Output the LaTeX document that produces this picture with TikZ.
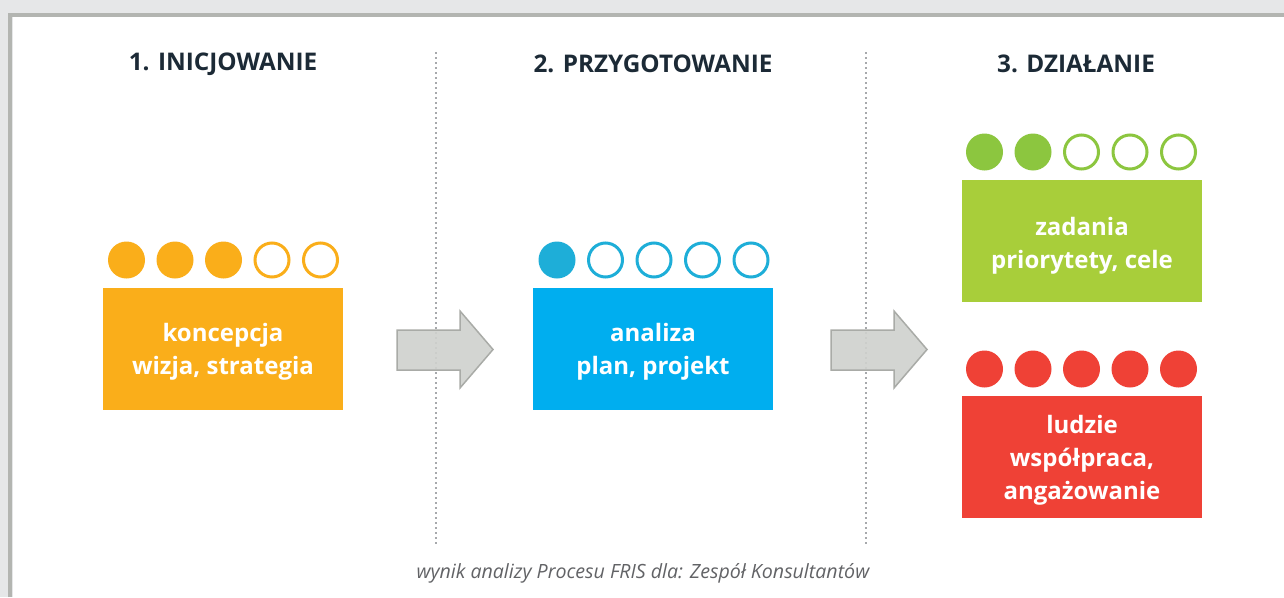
\documentclass[tikz,border=0pt]{standalone}
\usepackage{fontspec}
\setmainfont{Open Sans}
\definecolor{bgfr}{HTML}{E6E7E8}
\definecolor{frline}{HTML}{B3B5B1}
\definecolor{headc}{HTML}{1C2A36}
\definecolor{orangeC}{HTML}{FAAE1A}
\definecolor{blueBox}{HTML}{00AEEF}
\definecolor{blueDot}{HTML}{1EAED8}
\definecolor{greenBox}{HTML}{A8CE3A}
\definecolor{greenDot}{HTML}{8CC63F}
\definecolor{redC}{HTML}{EF4136}
\definecolor{arrowFill}{HTML}{CFD1CE}
\definecolor{arrowLine}{HTML}{A9ABA7}
\definecolor{sepC}{HTML}{A7A9AC}
\definecolor{capC}{HTML}{626366}
\begin{document}
\begin{tikzpicture}[x=1pt,y=-1pt,
  heading/.style={font=\fontsize{24.3}{28}\selectfont\bfseries, text=headc, anchor=center},
  boxlabel/.style={font=\fontsize{24}{33}\selectfont\bfseries, text=white, align=center},
  fulldot/.style={circle, fill=#1, minimum size=37pt, inner sep=0pt, draw=none},
  opendot/.style={circle, draw=#1, line width=3pt, fill=white, minimum size=34pt, inner sep=0pt},
  blockarrow/.style={fill=arrowFill, fill opacity=0.9, draw=arrowLine, line width=1.5pt, line join=miter},
  sepline/.style={draw=sepC, line width=2pt, dash pattern=on 2pt off 3pt}
]
\useasboundingbox (0,0) rectangle (1284,597);
\fill[bgfr] (0,0) rectangle (1284,597);
\fill[white] (12.5,17.3) rectangle (1284,597);
\draw[frline, line width=4.3pt] (10.3,597) -- (10.3,15.15) -- (1284,15.15);

% headings
\node[heading] (h1) at (223,64) {1. INICJOWANIE};
\node[heading] (h2) at (653,64) {2. PRZYGOTOWANIE};
\node[heading] (h3) at (1076,64) {3. DZIAŁANIE};

% separators
\coordinate (s1t) at (436,52); \coordinate (s1b) at (436,545);
\coordinate (s2t) at (866,52); \coordinate (s2b) at (866,545);
\draw[sepline] (s1t) -- (s1b);
\draw[sepline] (s2t) -- (s2b);

% boxes
\node[fill=orangeC, minimum width=240pt, minimum height=122pt, inner sep=0pt] (b1) at (223,349) {};
\node[boxlabel] (t1) at ([yshift=-2.5pt]b1.center) {koncepcja\\wizja, strategia};
\node[fill=blueBox, minimum width=240pt, minimum height=122pt, inner sep=0pt] (b2) at (653,349) {};
\node[boxlabel] (t2) at ([yshift=-2.5pt]b2.center) {analiza\\plan, projekt};
\node[fill=greenBox, minimum width=240pt, minimum height=122pt, inner sep=0pt] (b3) at (1082,241) {};
\node[boxlabel] (t3) at ([yshift=-4.5pt]b3.center) {zadania\\priorytety, cele};
\node[fill=redC, minimum width=240pt, minimum height=122pt, inner sep=0pt] (b4) at (1082,456.5) {};
\node[boxlabel] (t4) at ([yshift=-4pt]b4.center) {ludzie\\współpraca,\\angażowanie};

% dots: orange 3 full, 2 open
\foreach \i in {0,1,2}{ \node[fulldot=orangeC] (o\i) at ({126.5+48.5*\i},260) {}; }
\foreach \i in {3,4}{ \node[opendot=orangeC] (o\i) at ({126.5+48.5*\i},260) {}; }
% blue 1 full, 4 open
\node[fulldot=blueDot] (p0) at (557,260) {};
\foreach \i in {1,2,3,4}{ \node[opendot=blueDot] (p\i) at ({557+48.5*\i},260) {}; }
% green 2 full, 3 open
\foreach \i in {0,1}{ \node[fulldot=greenDot] (g\i) at ({984.5+48.5*\i},152) {}; }
\foreach \i in {2,3,4}{ \node[opendot=greenDot] (g\i) at ({984.5+48.5*\i},152) {}; }
% red 5 full
\foreach \i in {0,...,4}{ \node[fulldot=redC] (r\i) at ({984.5+48.5*\i},369) {}; }

% block arrows
\draw[blockarrow] (397,330) -- (460,330) -- (460,311) -- (493,349.5) -- (460,388) -- (460,370) -- (397,370) -- cycle;
\draw[blockarrow] (831,330) -- (894,330) -- (894,311) -- (927,349.5) -- (894,388) -- (894,370) -- (831,370) -- cycle;

% caption
\node[font=\fontsize{19.6}{24}\selectfont\itshape, text=capC] (cap) at (643,573) {wynik analizy Procesu FRIS dla: Zespół Konsultantów};
\end{tikzpicture}
\end{document}
